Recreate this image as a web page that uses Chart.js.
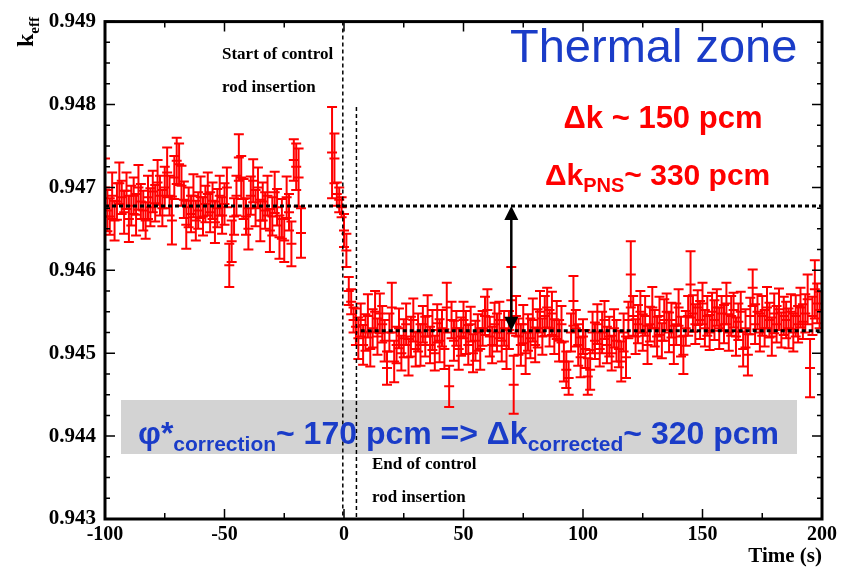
<!DOCTYPE html>
<html><head><meta charset="utf-8">
<script src="https://cdn.jsdelivr.net/npm/chart.js@4.4.1/dist/chart.umd.min.js"></script>
<style>html,body{margin:0;padding:0;background:#fff}canvas{display:block}</style>
</head><body>
<canvas id="c" width="850" height="568"></canvas>
<script>
// ---- data (time step 1 s within each segment) ----
const segmentStarts = [-100, -5, 5];
const keffBefore = [
0.94700,0.94672,0.94665,0.94690,0.94660,0.94683,0.94705,0.94688,0.94670,0.94696,
0.94662,0.94678,0.94690,0.94667,0.94700,0.94683,0.94672,0.94660,0.94688,0.94676,
0.94695,0.94681,0.94706,0.94690,0.94675,0.94700,0.94718,0.94690,0.94660,0.94712,
0.94732,0.94728,0.94702,0.94685,0.94655,0.94676,0.94668,0.94690,0.94660,0.94672,
0.94688,0.94665,0.94680,0.94692,0.94670,0.94684,0.94658,0.94675,0.94690,0.94666,
0.94680,0.94700,0.94606,0.94635,0.94665,0.94690,0.94736,0.94712,0.94686,0.94665,
0.94650,0.94690,0.94708,0.94675,0.94700,0.94660,0.94683,0.94672,0.94690,0.94648,
0.94665,0.94694,0.94676,0.94640,0.94662,0.94636,0.94688,0.94670,0.94632,0.94733,
0.94725,0.94712,0.94645];
const errBeforePcm = [
35,25,22,28,24,22,25,20,26,22,
28,24,22,25,27,21,24,22,26,23,
25,22,27,24,22,25,30,24,29,26,
28,25,24,22,29,24,22,26,24,22,
25,23,22,26,24,22,25,23,24,22,
25,24,26,25,22,24,28,26,24,22,
25,23,26,22,24,25,23,22,24,26,
23,25,22,26,24,26,25,22,27,25,
28,35,30];
const keffTransition = [0.94742,0.94735,0.94692,0.94685,0.94676,0.94648,0.94624,0.94575,0.94562,0.94540];
const errTransitionPcm = [55,30,14,15,12,20,20,17,15,15];
const keffAfter = [
0.94532,0.94518,0.94540,0.94510,0.94525,0.94545,0.94505,0.94530,0.94550,0.94520,
0.94548,0.94535,0.94515,0.94482,0.94525,0.94555,0.94490,0.94510,0.94530,0.94500,
0.94518,0.94535,0.94495,0.94520,0.94540,0.94505,0.94525,0.94510,0.94535,0.94520,
0.94545,0.94510,0.94528,0.94500,0.94536,0.94515,0.94530,0.94505,0.94555,0.94460,
0.94540,0.94515,0.94530,0.94505,0.94520,0.94540,0.94525,0.94510,0.94535,0.94500,
0.94515,0.94525,0.94505,0.94530,0.94545,0.94552,0.94520,0.94510,0.94535,0.94525,
0.94540,0.94515,0.94530,0.94505,0.94528,0.94564,0.94462,0.94545,0.94520,0.94510,
0.94535,0.94500,0.94525,0.94518,0.94540,0.94510,0.94530,0.94550,0.94520,0.94545,
0.94555,0.94530,0.94548,0.94520,0.94540,0.94515,0.94535,0.94490,0.94480,0.94470,
0.94525,0.94563,0.94530,0.94510,0.94495,0.94520,0.94505,0.94472,0.94480,0.94525,
0.94515,0.94535,0.94505,0.94525,0.94540,0.94510,0.94520,0.94500,0.94530,0.94515,
0.94505,0.94490,0.94525,0.94495,0.94540,0.94595,0.94545,0.94520,0.94535,0.94550,
0.94525,0.94545,0.94510,0.94535,0.94555,0.94530,0.94520,0.94545,0.94515,0.94540,
0.94550,0.94525,0.94540,0.94510,0.94535,0.94555,0.94520,0.94498,0.94530,0.94545,
0.94583,0.94548,0.94535,0.94555,0.94540,0.94560,0.94530,0.94545,0.94525,0.94550,
0.94540,0.94555,0.94530,0.94548,0.94535,0.94560,0.94525,0.94545,0.94552,0.94520,
0.94538,0.94550,0.94505,0.94530,0.94498,0.94545,0.94579,0.94535,0.94550,0.94525,
0.94545,0.94530,0.94555,0.94540,0.94520,0.94548,0.94535,0.94553,0.94528,0.94545,
0.94540,0.94530,0.94550,0.94525,0.94545,0.94535,0.94555,0.94538,0.94548,0.94565,
0.94482,0.94545,0.94577,0.94560,0.94552];
const errAfterPcm = [
22,25,20,24,22,26,21,23,25,22,
24,22,25,20,23,30,25,22,24,21,
23,25,22,24,26,21,23,25,22,24,
25,22,24,21,23,26,22,24,30,25,
22,24,21,25,23,22,26,24,21,23,
24,22,25,21,23,25,24,22,26,23,
22,25,21,24,23,40,35,24,22,25,
23,25,22,24,26,21,23,25,22,24,
24,22,26,21,23,25,22,24,22,20,
23,30,22,25,24,21,23,22,24,25,
22,24,21,25,23,22,24,21,23,25,
22,24,23,25,22,40,24,21,23,25,
22,24,23,21,25,22,24,23,21,25,
22,24,21,23,25,22,24,23,21,24,
40,22,24,21,23,25,22,24,21,23,
24,22,25,21,23,25,22,24,21,23,
22,24,21,23,25,22,22,24,21,23,
24,22,25,21,23,24,22,25,21,23,
22,24,21,23,25,22,24,21,23,30,
35,23,35,24,22];
const xTickLabels = [-100, -50, 0, 50, 100, 150, 200];
const yTickLabels = [0.943, 0.944, 0.945, 0.946, 0.947, 0.948, 0.949];
const meanBefore = 0.946775;
const meanAfter = 0.94527;
const startInsertionTime = -0.5;
const endInsertionTime = 5.2;
const arrowTime = 70;

// ---- build points ----
const points = [];
[[segmentStarts[0], keffBefore, errBeforePcm],
 [segmentStarts[1], keffTransition, errTransitionPcm],
 [segmentStarts[2], keffAfter, errAfterPcm]].forEach(([t0, vals, errs]) => {
  vals.forEach((v, i) => points.push({x: t0 + i, y: v, e: errs[i] * 1e-5}));
});

const RED = '#ff0000';
const BLUE = '#1a3cc8';
const SERIF = '"Liberation Serif", "Times New Roman", serif';
const SANS = '"Liberation Sans", Arial, sans-serif';

function richText(ctx, x, y, parts, align) {
  let total = 0;
  parts.forEach(p => { ctx.font = p.font; total += ctx.measureText(p.text).width; });
  let cx = align === 'center' ? x - total / 2 : x;
  ctx.textAlign = 'left';
  ctx.textBaseline = 'alphabetic';
  parts.forEach(p => {
    ctx.font = p.font;
    ctx.fillText(p.text, cx, y + (p.dy || 0));
    cx += ctx.measureText(p.text).width;
  });
}

const decor = {
  id: 'decor',
  beforeDatasetsDraw(chart) {
    const {ctx, chartArea: a, scales: {x, y}} = chart;
    // grey box
    ctx.save();
    ctx.fillStyle = '#d3d3d3';
    ctx.fillRect(121, 400, 676, 54);
    ctx.restore();
    // error bars
    ctx.save();
    ctx.beginPath(); ctx.rect(a.left, a.top, a.right - a.left, a.bottom - a.top); ctx.clip();
    ctx.strokeStyle = RED; ctx.lineWidth = 2;
    const cap = 5;
    points.forEach(p => {
      const px = x.getPixelForValue(p.x);
      const y1 = y.getPixelForValue(p.y - p.e);
      const y2 = y.getPixelForValue(p.y + p.e);
      ctx.beginPath();
      ctx.moveTo(px, y1); ctx.lineTo(px, y2);
      ctx.moveTo(px - cap, y1); ctx.lineTo(px + cap, y1);
      ctx.moveTo(px - cap, y2); ctx.lineTo(px + cap, y2);
      ctx.stroke();
    });
    ctx.restore();
  },
  afterDatasetsDraw(chart) {
    const {ctx, chartArea: a, scales: {x, y}} = chart;
    ctx.save();
    // dotted mean lines
    ctx.strokeStyle = '#000'; ctx.lineWidth = 3; ctx.setLineDash([4, 3]);
    let yy = y.getPixelForValue(meanBefore);
    ctx.beginPath(); ctx.moveTo(a.left, yy); ctx.lineTo(a.right, yy); ctx.stroke();
    yy = y.getPixelForValue(meanAfter);
    ctx.beginPath(); ctx.moveTo(x.getPixelForValue(7), yy); ctx.lineTo(a.right, yy); ctx.stroke();
    // vertical dashed lines
    ctx.lineWidth = 1.5; ctx.setLineDash([4, 3]);
    let xx = x.getPixelForValue(startInsertionTime);
    ctx.beginPath(); ctx.moveTo(xx, a.top); ctx.lineTo(xx, a.bottom); ctx.stroke();
    xx = x.getPixelForValue(endInsertionTime);
    ctx.beginPath(); ctx.moveTo(xx, y.getPixelForValue(0.94797)); ctx.lineTo(xx, a.bottom); ctx.stroke();
    ctx.setLineDash([]);
    // double arrow
    xx = x.getPixelForValue(arrowTime);
    const yt = y.getPixelForValue(meanBefore), yb = y.getPixelForValue(meanAfter);
    ctx.lineWidth = 2.5;
    ctx.beginPath(); ctx.moveTo(xx, yt + 10); ctx.lineTo(xx, yb - 10); ctx.stroke();
    ctx.fillStyle = '#000';
    ctx.beginPath(); ctx.moveTo(xx, yt); ctx.lineTo(xx - 7, yt + 14); ctx.lineTo(xx + 7, yt + 14); ctx.closePath(); ctx.fill();
    ctx.beginPath(); ctx.moveTo(xx, yb); ctx.lineTo(xx - 7, yb - 14); ctx.lineTo(xx + 7, yb - 14); ctx.closePath(); ctx.fill();
    // frame
    ctx.lineWidth = 3; ctx.strokeStyle = '#000';
    ctx.strokeRect(a.left, a.top, a.right - a.left, a.bottom - a.top);
    // ticks
    ctx.lineWidth = 1.5;
    ctx.beginPath();
    for (let v = -100; v <= 200; v += 25) {
      const px = x.getPixelForValue(v);
      const len = (v % 50 === 0) ? 10 : 6;
      ctx.moveTo(px, a.bottom); ctx.lineTo(px, a.bottom - len);
      ctx.moveTo(px, a.top); ctx.lineTo(px, a.top + len);
    }
    for (let k = 0; k <= 24; k++) {
      const v = 0.943 + k * 0.00025;
      const py = y.getPixelForValue(v);
      const len = (k % 4 === 0) ? 10 : 5;
      ctx.moveTo(a.left, py); ctx.lineTo(a.left + len, py);
      ctx.moveTo(a.right, py); ctx.lineTo(a.right - len, py);
    }
    ctx.stroke();
    // texts
    ctx.fillStyle = '#000';
    ctx.font = 'bold 17px ' + SERIF; ctx.textAlign = 'left'; ctx.textBaseline = 'alphabetic';
    ctx.fillText('Start of control', 222, 59);
    ctx.fillText('rod insertion', 222, 92);
    ctx.fillText('End of control', 372, 469);
    ctx.fillText('rod insertion', 372, 502);
    // axis titles
    ctx.font = 'bold 21px ' + SERIF; ctx.textAlign = 'right';
    ctx.fillText('Time (s)', 822, 562);
    ctx.save();
    ctx.translate(33, 47); ctx.rotate(-Math.PI / 2);
    richText(ctx, 0, 0, [{text: 'k', font: 'bold 24px ' + SERIF}, {text: 'eff', font: 'bold 15px ' + SERIF, dy: 6}], 'left');
    ctx.restore();
    // annotations
    ctx.fillStyle = BLUE;
    ctx.font = '47px ' + SANS; ctx.textAlign = 'left';
    ctx.fillText('Thermal zone', 510, 62);
    ctx.fillStyle = RED;
    richText(ctx, 663, 128, [{text: '\u0394k ~ 150 pcm', font: 'bold 31px ' + SANS}], 'center');
    richText(ctx, 545, 185, [
      {text: '\u0394k', font: 'bold 30px ' + SANS},
      {text: 'PNS', font: 'bold 20px ' + SANS, dy: 7},
      {text: '~ 330 pcm', font: 'bold 30px ' + SANS}], 'left');
    ctx.fillStyle = BLUE;
    richText(ctx, 138, 444, [
      {text: '\u03c6*', font: 'bold 32px ' + SANS},
      {text: 'correction', font: 'bold 21px ' + SANS, dy: 7},
      {text: '~ 170 pcm => \u0394k', font: 'bold 32px ' + SANS},
      {text: 'corrected', font: 'bold 21px ' + SANS, dy: 7},
      {text: '~ 320 pcm', font: 'bold 32px ' + SANS}], 'left');
    ctx.restore();
  }
};

new Chart(document.getElementById('c'), {
  type: 'scatter',
  data: {datasets: [{
    data: points,
    pointStyle: 'line',
    pointRadius: 5,
    pointBorderWidth: 2,
    pointBorderColor: RED,
    pointBackgroundColor: RED,
    borderColor: RED,
    showLine: false
  }]},
  options: {
    responsive: false, animation: false, devicePixelRatio: 1,
    layout: {padding: {top: 17, right: 28, left: 0, bottom: 0}},
    plugins: {legend: {display: false}, tooltip: {enabled: false}},
    scales: {
      x: {
        type: 'linear', min: -100, max: 200,
        afterBuildTicks: s => { s.ticks = xTickLabels.map(v => ({value: v})); },
        afterFit: s => { s.height = 49; },
        grid: {display: false, drawTicks: false}, border: {display: false},
        ticks: {color: '#000', padding: 4, maxRotation: 0, autoSkip: false,
                font: {family: SERIF, weight: 'bold', size: 20}}
      },
      y: {
        type: 'linear', min: 0.943, max: 0.949,
        afterBuildTicks: s => { s.ticks = yTickLabels.map(v => ({value: v})); },
        afterFit: s => { s.width = 105; },
        grid: {display: false, drawTicks: false}, border: {display: false},
        ticks: {color: '#000', padding: 9, autoSkip: false,
                callback: v => Number(v).toFixed(3),
                font: {family: SERIF, weight: 'bold', size: 21}}
      }
    }
  },
  plugins: [decor]
});
</script>
</body></html>
